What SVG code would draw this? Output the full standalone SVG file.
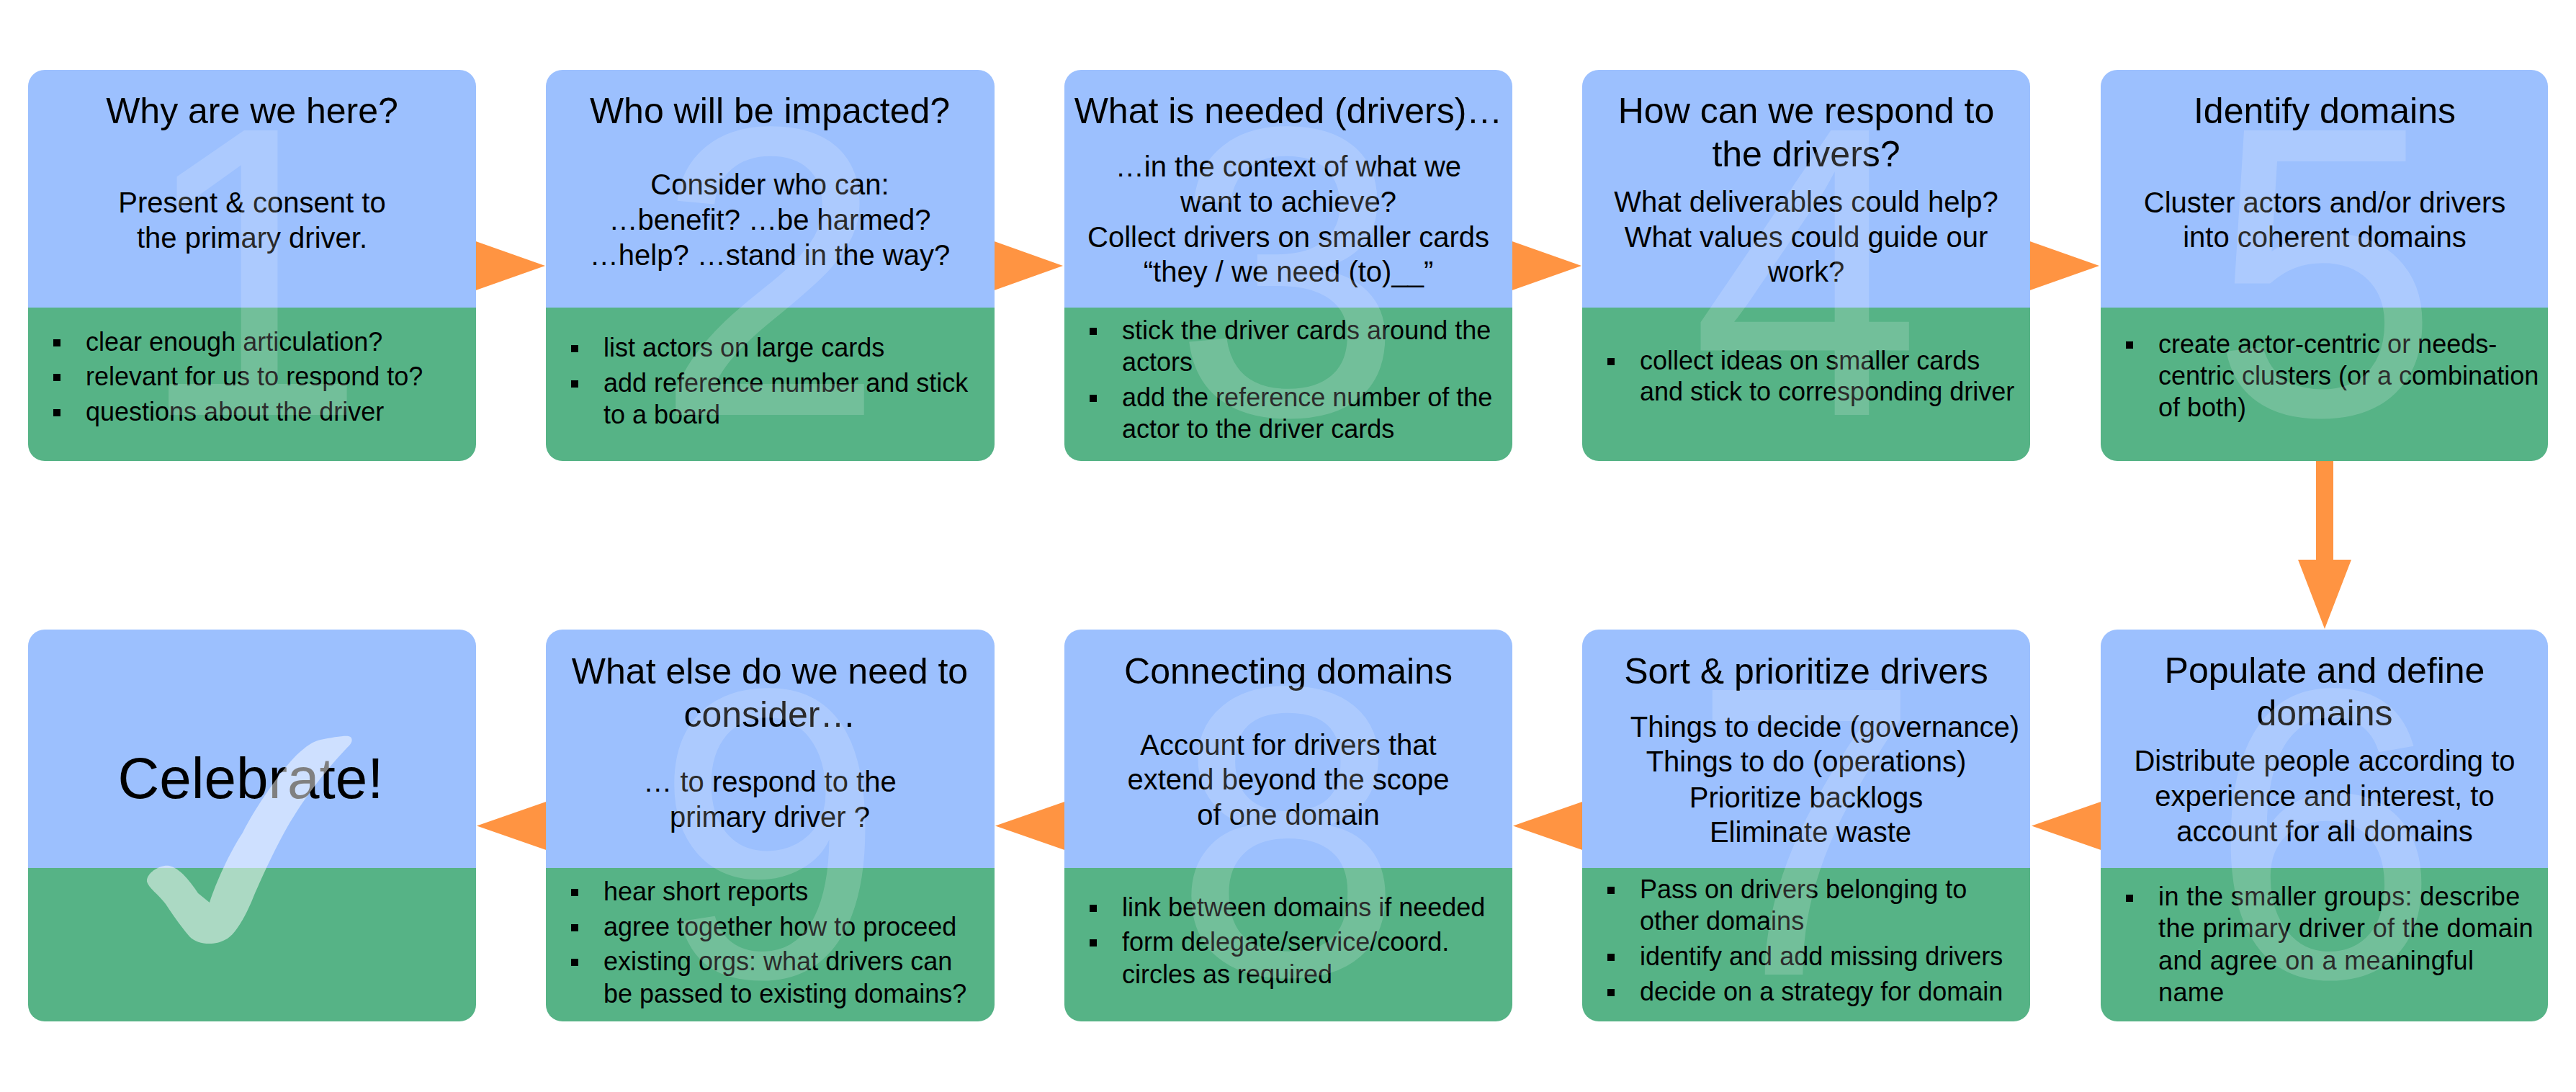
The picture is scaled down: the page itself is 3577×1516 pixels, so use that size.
<svg xmlns="http://www.w3.org/2000/svg" width="3577" height="1516" viewBox="0 0 3577 1516">
<style>
.top{fill:#9CC0FE}
.bot{fill:#56B386}
.arr{fill:#FF9442}
text{font-family:"Liberation Sans",Arial,sans-serif;fill:#000}
.t{font-size:50px;text-anchor:middle}
.b{font-size:40px;text-anchor:middle}
.l{font-size:36px}
.num{font-size:574px;text-anchor:middle;fill:#fff;fill-opacity:0.17}
.sq{fill:#000}
</style>
<rect width="3577" height="1516" fill="#fff"/>
<g id="connectors">
<polygon class="arr" points="655,333 757,369 655,405"/>
<polygon class="arr" points="1375,333 1476,369 1375,405"/>
<polygon class="arr" points="2094,333 2196,369 2094,405"/>
<polygon class="arr" points="2813,333 2915,369 2813,405"/>
<polygon class="arr" points="3216,634 3240,634 3240,777 3265,777 3228,873 3191,777 3216,777"/>
<polygon class="arr" points="2923,1111 2821,1146.5 2923,1182"/>
<polygon class="arr" points="2203,1111 2101,1146.5 2203,1182"/>
<polygon class="arr" points="1484,1111 1382,1146.5 1484,1182"/>
<polygon class="arr" points="764,1111 662,1146.5 764,1182"/>
</g>

<g id="step1">
<path class="top" d="M39,427V120a23,23 0 0 1 23-23H638a23,23 0 0 1 23,23V427Z"/>
<path class="bot" d="M39,427H661V617a23,23 0 0 1-23,23H62a23,23 0 0 1-23-23Z"/>
<text class="t" x="350" y="171">Why are we here?</text>
<text class="b" x="350" y="295">Present &amp; consent to</text>
<text class="b" x="350" y="344">the primary driver.</text>
<rect class="sq" x="74" y="471" width="10" height="10"/>
<rect class="sq" x="74" y="519" width="10" height="10"/>
<rect class="sq" x="74" y="568" width="10" height="10"/>
<text class="l" x="119" y="487">clear enough articulation?</text>
<text class="l" x="119" y="535">relevant for us to respond to?</text>
<text class="l" x="119" y="584">questions about the driver</text>
<text class="num" x="350" y="576">1</text>
</g>

<g id="step2">
<path class="top" d="M758,427V120a23,23 0 0 1 23-23H1358a23,23 0 0 1 23,23V427Z"/>
<path class="bot" d="M758,427H1381V617a23,23 0 0 1-23,23H781a23,23 0 0 1-23-23Z"/>
<text class="t" x="1069" y="171">Who will be impacted?</text>
<text class="b" x="1069" y="270">Consider who can:</text>
<text class="b" x="1069" y="319">…benefit? …be harmed?</text>
<text class="b" x="1069" y="368">…help? …stand in the way?</text>
<rect class="sq" x="793" y="479" width="10" height="10"/>
<rect class="sq" x="793" y="528" width="10" height="10"/>
<text class="l" x="838" y="495">list actors on large cards</text>
<text class="l" x="838" y="544">add reference number and stick</text>
<text class="l" x="838" y="588">to a board</text>
<text class="num" x="1069" y="576">2</text>
</g>

<g id="step3">
<path class="top" d="M1478,427V120a23,23 0 0 1 23-23H2077a23,23 0 0 1 23,23V427Z"/>
<path class="bot" d="M1478,427H2100V617a23,23 0 0 1-23,23H1501a23,23 0 0 1-23-23Z"/>
<text class="t" x="1789" y="171">What is needed (drivers)…</text>
<text class="b" x="1789" y="245">…in the context of what we</text>
<text class="b" x="1789" y="294">want to achieve?</text>
<text class="b" x="1789" y="343">Collect drivers on smaller cards</text>
<text class="b" x="1789" y="391">“they / we need (to)__”</text>
<rect class="sq" x="1513" y="455" width="10" height="10"/>
<rect class="sq" x="1513" y="548" width="10" height="10"/>
<text class="l" x="1558" y="471">stick the driver cards around the</text>
<text class="l" x="1558" y="515">actors</text>
<text class="l" x="1558" y="564">add the reference number of the</text>
<text class="l" x="1558" y="608">actor to the driver cards</text>
<text class="num" x="1789" y="576">3</text>
</g>

<g id="step4">
<path class="top" d="M2197,427V120a23,23 0 0 1 23-23H2796a23,23 0 0 1 23,23V427Z"/>
<path class="bot" d="M2197,427H2819V617a23,23 0 0 1-23,23H2220a23,23 0 0 1-23-23Z"/>
<text class="t" x="2508" y="171">How can we respond to</text>
<text class="t" x="2508" y="231">the drivers?</text>
<text class="b" x="2508" y="294">What deliverables could help?</text>
<text class="b" x="2508" y="343">What values could guide our</text>
<text class="b" x="2508" y="391">work?</text>
<rect class="sq" x="2232" y="497" width="10" height="10"/>
<text class="l" x="2277" y="513">collect ideas on smaller cards</text>
<text class="l" x="2277" y="556">and stick to corresponding driver</text>
<text class="num" x="2508" y="576">4</text>
</g>

<g id="step5">
<path class="top" d="M2917,427V120a23,23 0 0 1 23-23H3515a23,23 0 0 1 23,23V427Z"/>
<path class="bot" d="M2917,427H3538V617a23,23 0 0 1-23,23H2940a23,23 0 0 1-23-23Z"/>
<text class="t" x="3228" y="171">Identify domains</text>
<text class="b" x="3228" y="295">Cluster actors and/or drivers</text>
<text class="b" x="3228" y="343">into coherent domains</text>
<rect class="sq" x="2952" y="474" width="10" height="10"/>
<text class="l" x="2997" y="490">create actor-centric or needs-</text>
<text class="l" x="2997" y="534">centric clusters (or a combination</text>
<text class="l" x="2997" y="578">of both)</text>
<text class="num" x="3228" y="576">5</text>
</g>

<g id="step6">
<path class="top" d="M2917,1205V897a23,23 0 0 1 23-23H3515a23,23 0 0 1 23,23V1205Z"/>
<path class="bot" d="M2917,1205H3538V1395a23,23 0 0 1-23,23H2940a23,23 0 0 1-23-23Z"/>
<text class="t" x="3228" y="948">Populate and define</text>
<text class="t" x="3228" y="1007">domains</text>
<text class="b" x="3228" y="1070">Distribute people according to</text>
<text class="b" x="3228" y="1119">experience and interest, to</text>
<text class="b" x="3228" y="1168">account for all domains</text>
<rect class="sq" x="2952" y="1242" width="10" height="10"/>
<text class="l" x="2997" y="1257" letter-spacing="0.4">in the smaller groups: describe</text>
<text class="l" x="2997" y="1301" letter-spacing="0.4">the primary driver of the domain</text>
<text class="l" x="2997" y="1346" letter-spacing="0.4">and agree on a meaningful</text>
<text class="l" x="2997" y="1390" letter-spacing="0.4">name</text>
<text class="num" x="3228" y="1356">6</text>
</g>

<g id="step7">
<path class="top" d="M2197,1205V897a23,23 0 0 1 23-23H2796a23,23 0 0 1 23,23V1205Z"/>
<path class="bot" d="M2197,1205H2819V1395a23,23 0 0 1-23,23H2220a23,23 0 0 1-23-23Z"/>
<text class="t" x="2508" y="949">Sort &amp; prioritize drivers</text>
<text class="b" x="2534" y="1023">Things to decide (governance)</text>
<text class="b" x="2508" y="1071">Things to do (operations)</text>
<text class="b" x="2508" y="1121">Prioritize backlogs</text>
<text class="b" x="2514" y="1169">Eliminate waste</text>
<rect class="sq" x="2232" y="1231" width="10" height="10"/>
<rect class="sq" x="2232" y="1324" width="10" height="10"/>
<rect class="sq" x="2232" y="1373" width="10" height="10"/>
<text class="l" x="2277" y="1247">Pass on drivers belonging to</text>
<text class="l" x="2277" y="1291">other domains</text>
<text class="l" x="2277" y="1340">identify and add missing drivers</text>
<text class="l" x="2277" y="1389">decide on a strategy for domain</text>
<text class="num" x="2508" y="1353">7</text>
</g>

<g id="step8">
<path class="top" d="M1478,1205V897a23,23 0 0 1 23-23H2077a23,23 0 0 1 23,23V1205Z"/>
<path class="bot" d="M1478,1205H2100V1395a23,23 0 0 1-23,23H1501a23,23 0 0 1-23-23Z"/>
<text class="t" x="1789" y="949">Connecting domains</text>
<text class="b" x="1789" y="1048">Account for drivers that</text>
<text class="b" x="1789" y="1096">extend beyond the scope</text>
<text class="b" x="1789" y="1145">of one domain</text>
<rect class="sq" x="1513" y="1256" width="10" height="10"/>
<rect class="sq" x="1513" y="1304" width="10" height="10"/>
<text class="l" x="1558" y="1272">link between domains if needed</text>
<text class="l" x="1558" y="1320">form delegate/service/coord.</text>
<text class="l" x="1558" y="1365">circles as required</text>
<text class="num" x="1789" y="1353">8</text>
</g>

<g id="step9">
<path class="top" d="M758,1205V897a23,23 0 0 1 23-23H1358a23,23 0 0 1 23,23V1205Z"/>
<path class="bot" d="M758,1205H1381V1395a23,23 0 0 1-23,23H781a23,23 0 0 1-23-23Z"/>
<text class="t" x="1069" y="949">What else do we need to</text>
<text class="t" x="1069" y="1009">consider…</text>
<text class="b" x="1069" y="1099">… to respond to the</text>
<text class="b" x="1069" y="1148">primary driver ?</text>
<rect class="sq" x="793" y="1234" width="10" height="10"/>
<rect class="sq" x="793" y="1283" width="10" height="10"/>
<rect class="sq" x="793" y="1331" width="10" height="10"/>
<text class="l" x="838" y="1250">hear short reports</text>
<text class="l" x="838" y="1299">agree together how to proceed</text>
<text class="l" x="838" y="1347">existing orgs: what drivers can</text>
<text class="l" x="838" y="1392">be passed to existing domains?</text>
<text class="num" x="1069" y="1356">9</text>
</g>

<g id="step10">
<path class="top" d="M39,1205V897a23,23 0 0 1 23-23H638a23,23 0 0 1 23,23V1205Z"/>
<path class="bot" d="M39,1205H661V1395a23,23 0 0 1-23,23H62a23,23 0 0 1-23-23Z"/>
<text x="348" y="1108" font-size="80" text-anchor="middle">Celebrate!</text>
<path fill="#fff" fill-opacity="0.5" d="M204,1224C203,1212 222,1200 235,1202C250,1205 265,1225 275,1240L291,1253C300,1225 318,1185 337,1156C355,1120 390,1070 412,1048C425,1036 435,1029 445,1027C460,1024 478,1021 484,1022C490,1023 490,1030 485,1035C470,1050 435,1090 410,1130C390,1160 365,1215 352,1245C340,1275 325,1300 312,1305C300,1312 275,1313 263,1300C250,1285 240,1270 230,1255C220,1242 206,1232 204,1224Z"/>
</g>
</svg>
